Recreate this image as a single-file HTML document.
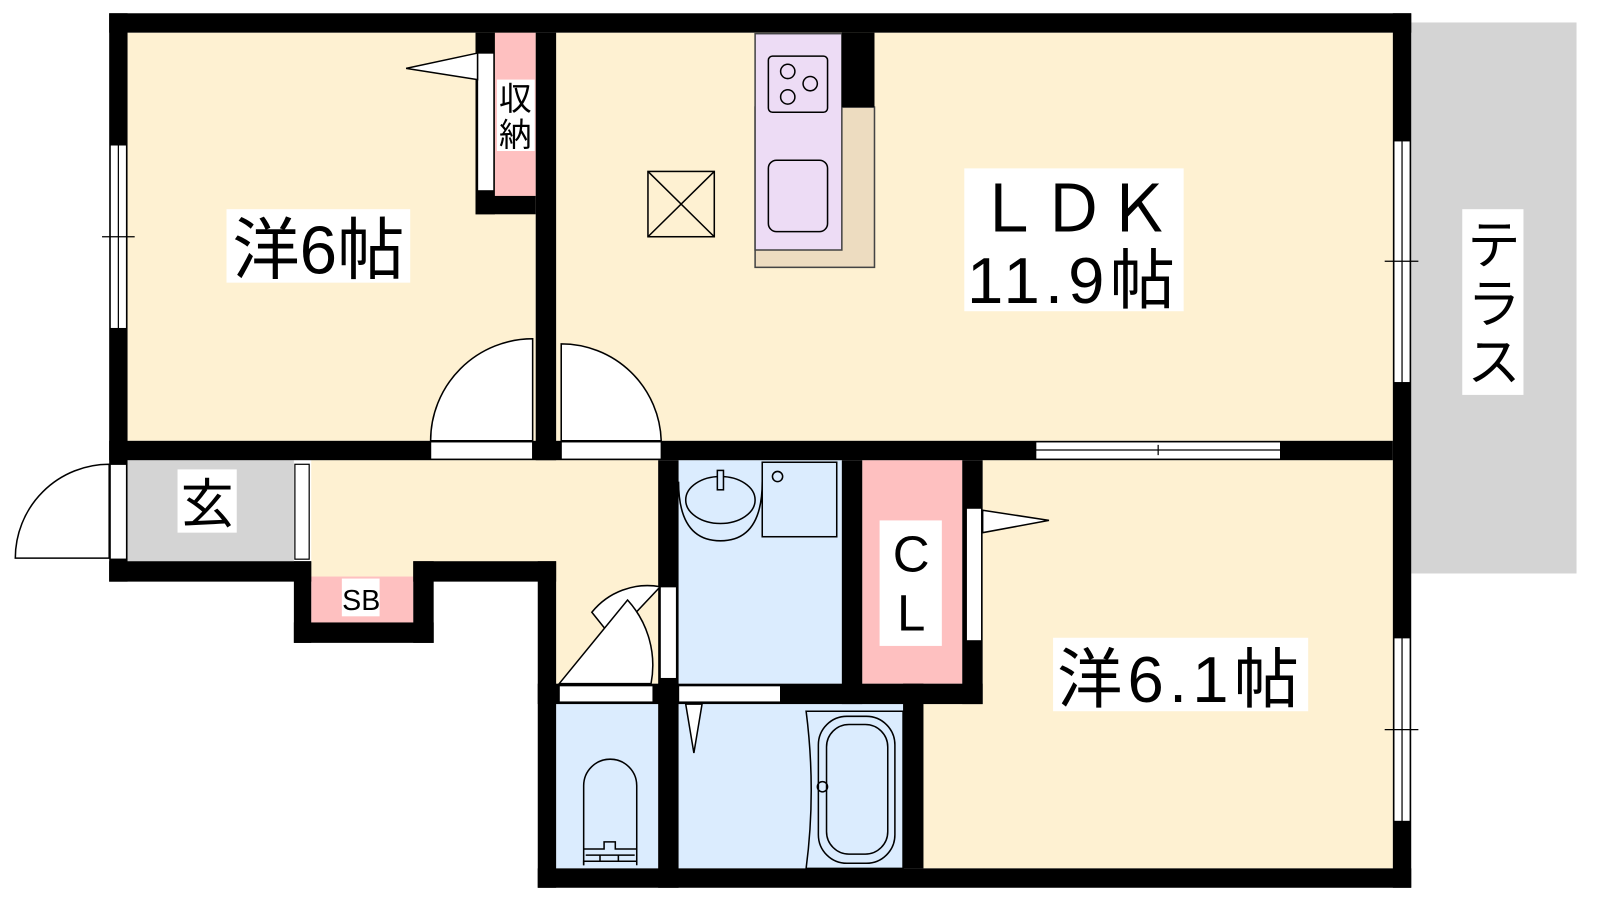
<!DOCTYPE html>
<html><head><meta charset="utf-8"><style>
html,body{margin:0;padding:0;background:#fff;width:1600px;height:900px;overflow:hidden}
svg{display:block}
text{font-family:"Liberation Sans","Noto Sans CJK JP",sans-serif;fill:#000}
</style></head><body>
<svg width="1600" height="900" viewBox="0 0 1568 882" xmlns="http://www.w3.org/2000/svg">
<rect x="1383" y="22" width="162" height="540" fill="#d4d4d4"/>
<rect x="125" y="32" width="400" height="400" fill="#fef1d2"/>
<rect x="545" y="32" width="820" height="400" fill="#fef1d2"/>
<rect x="125" y="451" width="163" height="99" fill="#d4d4d4"/>
<rect x="305" y="451" width="340" height="114" fill="#fef1d2"/>
<rect x="545" y="451" width="100" height="219" fill="#fef1d2"/>
<rect x="305" y="565" width="100" height="45" fill="#fec0c0"/>
<rect x="665" y="451" width="160" height="219" fill="#dbecfe"/>
<rect x="845" y="451" width="98" height="219" fill="#fec0c0"/>
<rect x="963" y="451" width="402" height="400" fill="#fef1d2"/>
<rect x="905" y="690" width="60" height="161" fill="#fef1d2"/>
<rect x="665" y="690" width="220" height="161" fill="#dbecfe"/>
<rect x="545" y="690" width="100" height="161" fill="#dbecfe"/>
<rect x="485" y="32" width="40" height="160" fill="#fec0c0"/>
<rect x="740" y="105" width="117" height="157" fill="#eddcc0" stroke="#444" stroke-width="1.5"/>
<rect x="740" y="33" width="85" height="212" fill="#eddcf5" stroke="#444" stroke-width="1.5"/>
<rect x="753" y="55" width="58" height="55" rx="4" fill="none" stroke="#000" stroke-width="1.5"/>
<circle cx="772" cy="70" r="7" fill="none" stroke="#000" stroke-width="1.5"/>
<circle cx="794" cy="82" r="7" fill="none" stroke="#000" stroke-width="1.5"/>
<circle cx="772" cy="95" r="7" fill="none" stroke="#000" stroke-width="1.5"/>
<rect x="753" y="157" width="58" height="70" rx="8" fill="none" stroke="#000" stroke-width="1.5"/>
<rect x="825" y="32" width="32" height="73" fill="#000"/>
<g stroke="#000" stroke-width="1.5" fill="none"><rect x="635" y="168" width="65" height="64"/><path d="M635 168L700 232M700 168L635 232"/></g>
<g fill="#000">
<rect x="107" y="13" width="1276" height="19"/>
<rect x="107" y="13" width="18" height="557"/>
<rect x="1365" y="13" width="18" height="857"/>
<rect x="527" y="851" width="856" height="19"/>
<rect x="107" y="432" width="1258" height="19"/>
<rect x="525" y="32" width="20" height="419"/>
<rect x="466" y="32" width="19" height="178"/>
<rect x="466" y="192" width="59" height="18"/>
<rect x="107" y="550" width="198" height="20"/>
<rect x="288" y="550" width="17" height="80"/>
<rect x="288" y="610" width="137" height="20"/>
<rect x="405" y="550" width="20" height="80"/>
<rect x="405" y="550" width="140" height="20"/>
<rect x="527" y="550" width="18" height="320"/>
<rect x="645" y="451" width="20" height="419"/>
<rect x="825" y="451" width="20" height="239"/>
<rect x="943" y="451" width="20" height="239"/>
<rect x="645" y="670" width="318" height="20"/>
<rect x="885" y="670" width="20" height="181"/>
<rect x="527" y="670" width="138" height="20"/>
</g>
<g fill="#fff" stroke="#000" stroke-width="1.2">
<rect x="108" y="142" width="16" height="180"/>
<rect x="1366" y="138" width="16" height="237"/>
<rect x="1366" y="625" width="16" height="180"/>
<rect x="1015" y="433" width="240" height="17"/>
<rect x="422" y="433" width="100" height="17"/>
<rect x="550" y="433" width="98" height="17"/>
<rect x="108" y="455" width="16" height="93"/>
<rect x="289" y="455" width="14" height="93"/>
<rect x="468" y="52" width="16" height="135"/>
<rect x="947" y="498" width="15" height="130"/>
<rect x="665" y="672" width="100" height="16"/>
<rect x="548" y="672" width="92" height="16"/>
<rect x="647" y="575" width="16" height="90"/>
</g>
<g stroke="#000" stroke-width="1.2" fill="none">
<path d="M116 142V322M1374 138V375M1374 625V805M1015 441H1255"/>
<path d="M100 232H132M1357 256H1390M1357 715H1390M1135 436V446"/>
</g>
<g fill="#fff" stroke="#000" stroke-width="1.5">
<path d="M522 432V332A100 100 0 0 0 422 432Z"/>
<path d="M550 432V337A98 98 0 0 1 648 432Z"/>
<path d="M107 455A92 92 0 0 0 15 547H107Z"/>
<path d="M468 52L398 67L468 78Z"/>
<path d="M963 500L1028 510L963 522Z"/>
<path d="M672 690L680 738L688 690Z"/>
<path d="M647 575A70 70 0 0 0 580 600L600 625 Z"/>
<path d="M548 670L615 588A95 95 0 0 1 638 670Z"/>
</g>
<g fill="none" stroke="#000" stroke-width="1.5">
<path d="M665 472Q665 530 706 530Q747 530 747 472"/>
<ellipse cx="706" cy="490" rx="34" ry="23"/>
<rect x="703" y="461" width="6" height="19" fill="#dbecfe"/>
<rect x="747" y="453" width="73" height="73"/>
<circle cx="762" cy="467" r="5"/>
<path d="M790 697H885V851H790Q800 775 790 697Z"/>
<rect x="802" y="702" width="75" height="144" rx="28"/>
<rect x="810" y="710" width="60" height="127" rx="22"/>
<circle cx="806" cy="771" r="5"/>
<path d="M572 848V770a26 26 0 0 1 52 0V848"/>
<path d="M572 832H592V825H603V832H624M572 848V844H624M574 838H622M588 838V844M606 838V844"/>
</g>
<g>
<rect x="222" y="205" width="180" height="72" fill="#fff"/>
<text x="312" y="268" font-size="66" text-anchor="middle">洋6帖</text>
<rect x="945" y="165" width="215" height="140" fill="#fff"/>
<text x="1052" y="227" font-size="64" text-anchor="middle">ＬＤＫ</text>
<text x="1052" y="297" font-size="64" text-anchor="middle" letter-spacing="5">11.9帖</text>
<rect x="1433" y="205" width="60" height="182" fill="#fff"/>
<text x="1464" y="258" font-size="52" text-anchor="middle">テ</text>
<text x="1464" y="316" font-size="52" text-anchor="middle">ラ</text>
<text x="1464" y="373" font-size="52" text-anchor="middle">ス</text>
<rect x="1032" y="625" width="250" height="72" fill="#fff"/>
<text x="1157" y="688" font-size="64" text-anchor="middle" letter-spacing="5">洋6.1帖</text>
<rect x="174" y="460" width="58" height="62" fill="#fff"/>
<text x="203" y="512" font-size="52" text-anchor="middle">玄</text>
<rect x="335" y="567" width="37" height="37" fill="#fff"/>
<text x="354" y="598" font-size="28" text-anchor="middle">SB</text>
<rect x="487" y="78" width="37" height="70" fill="#fff"/>
<text x="505" y="108" font-size="32" text-anchor="middle">収</text>
<text x="505" y="143" font-size="32" text-anchor="middle">納</text>
<rect x="862" y="510" width="61" height="123" fill="#fff"/>
<text x="893" y="560" font-size="50" text-anchor="middle">C</text>
<text x="893" y="618" font-size="50" text-anchor="middle">L</text>
</g>
</svg>
</body></html>
